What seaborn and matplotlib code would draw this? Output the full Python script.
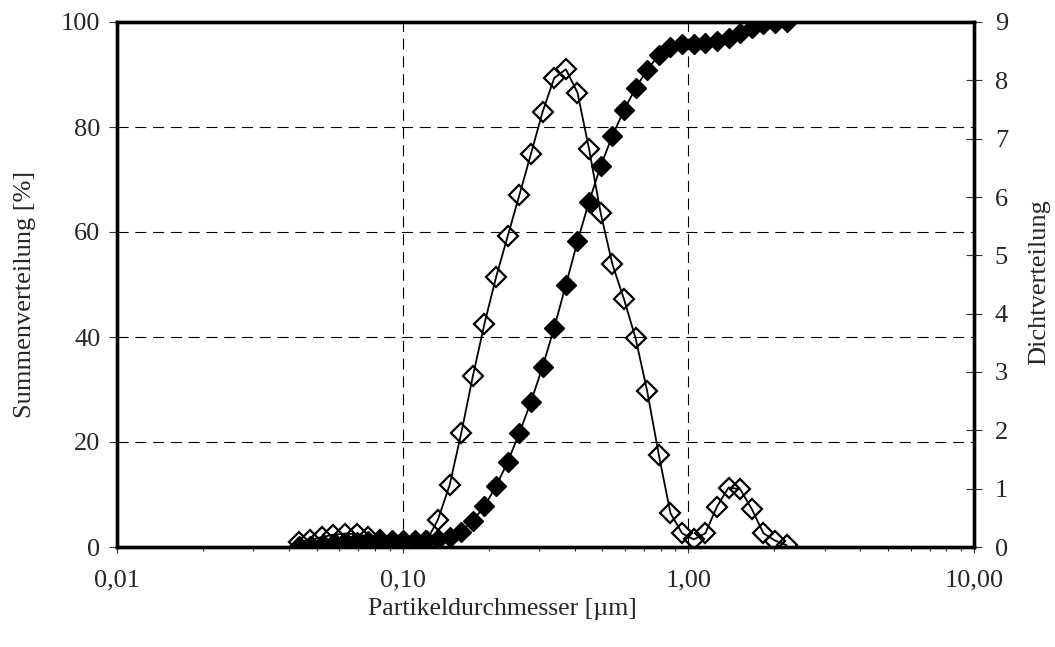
import numpy as np
import pandas as pd
import matplotlib
matplotlib.use("Agg")
import matplotlib.pyplot as plt
import seaborn as sns

# ---------------- data ----------------
diameter_um = [0.0432, 0.0474, 0.0521, 0.0572, 0.0628, 0.0690, 0.0758, 0.0832,
               0.0914, 0.1004, 0.1102, 0.1211, 0.1329, 0.1460, 0.1603, 0.1761,
               0.1934, 0.2124, 0.2332, 0.2561, 0.2813, 0.3089, 0.3393, 0.3726,
               0.4092, 0.4494, 0.4935, 0.5420, 0.5952, 0.6536, 0.7178, 0.7883,
               0.8657, 0.9507, 1.044, 1.147, 1.259, 1.383, 1.519, 1.668,
               1.832, 2.011, 2.209]

summen_pct = [0.1, 0.2, 0.3, 0.5, 0.7, 0.9, 1.1, 1.25,
              1.3, 1.3, 1.3, 1.35, 1.45, 1.96, 2.9, 5.0,
              7.8, 11.6, 16.2, 21.7, 27.7, 34.3, 41.8, 49.9,
              58.2, 65.8, 72.6, 78.3, 83.2, 87.4, 90.9, 93.7,
              95.3, 95.8, 95.9, 96.0, 96.3, 97.0, 97.9, 98.9,
              99.6, 99.9, 100.0]

dichte = [0.08, 0.12, 0.17, 0.21, 0.23, 0.22, 0.18, 0.12,
          0.03, 0.01, 0.0, 0.1, 0.47, 1.06, 1.95, 2.93,
          3.83, 4.63, 5.33, 6.03, 6.74, 7.46, 8.04, 8.19,
          7.79, 6.82, 5.72, 4.85, 4.25, 3.58, 2.67, 1.58,
          0.58, 0.235, 0.13, 0.235, 0.69, 1.02, 0.99, 0.65,
          0.235, 0.11, 0.03]

x_ticks = [0.01, 0.1, 1, 10]
x_tick_labels = ["0,01", "0,10", "1,00", "10,00"]
left_ticks = [0, 20, 40, 60, 80, 100]
right_ticks = [0, 1, 2, 3, 4, 5, 6, 7, 8, 9]

df = pd.DataFrame({"d": diameter_um, "Q": summen_pct, "q": dichte})

# ---------------- style ----------------
sns.set_style("white")
plt.rcParams["font.family"] = ["Liberation Serif", "DejaVu Serif"]
plt.rcParams["font.size"] = 19

fig = plt.figure(figsize=(10.55, 6.47), dpi=100)
ax = fig.add_axes([117 / 1055, 1 - 547 / 647, (974 - 117) / 1055, (547 - 22) / 647])
ax2 = ax.twinx()

sns.lineplot(data=df, x="d", y="Q", ax=ax, sort=False, color="black",
             marker="D", markersize=9.8, markerfacecolor="black",
             markeredgecolor="black", markeredgewidth=1.0, linewidth=1.3)
sns.lineplot(data=df, x="d", y="q", ax=ax2, sort=False, color="black",
             marker="D", markersize=9.8, markerfacecolor="none",
             markeredgecolor="black", markeredgewidth=1.6, linewidth=1.3)

ax.set_xscale("log")
ax.set_xlim(0.01, 10)
ax.set_ylim(0, 100)
ax2.set_ylim(0, 9)

ax.set_xticks(x_ticks)
ax.set_xticklabels(x_tick_labels)
ax.set_yticks(left_ticks)
ax2.set_yticks(right_ticks)

# grid
ax.grid(True, which="major", axis="both", color="black", linestyle=(0, (10, 6)),
        linewidth=0.8)
ax.set_axisbelow(True)
ax2.grid(False)

for a in (ax, ax2):
    for s in a.spines.values():
        s.set_linewidth(2.4)
        s.set_color("black")

ax.tick_params(axis="y", which="both", direction="out", length=6, width=0.8,
               color="#333333", pad=6, labelsize=19, left=True)
ax.tick_params(axis="x", which="major", direction="out", length=4, width=0.8,
               color="#333333", pad=12, labelsize=19, bottom=True)
ax.tick_params(axis="x", which="minor", direction="out", length=3, width=0.8,
               color="#333333", bottom=True)
ax2.tick_params(axis="y", direction="inout", length=12, width=0.8,
                color="#333333", pad=9, labelsize=19, right=True)

ax.set_xlabel("Partikeldurchmesser [µm]", fontsize=18.5)
ax.set_ylabel("Summenverteilung [%]", fontsize=19)
ax2.set_ylabel("Dichtverteilung", fontsize=19)
ax.xaxis.set_label_coords(0.45, -0.097)
ax.yaxis.set_label_coords(-0.094, 0.482)
ax2.yaxis.set_label_coords(1.063, 0.505)

fig.savefig("out.png", dpi=100)
